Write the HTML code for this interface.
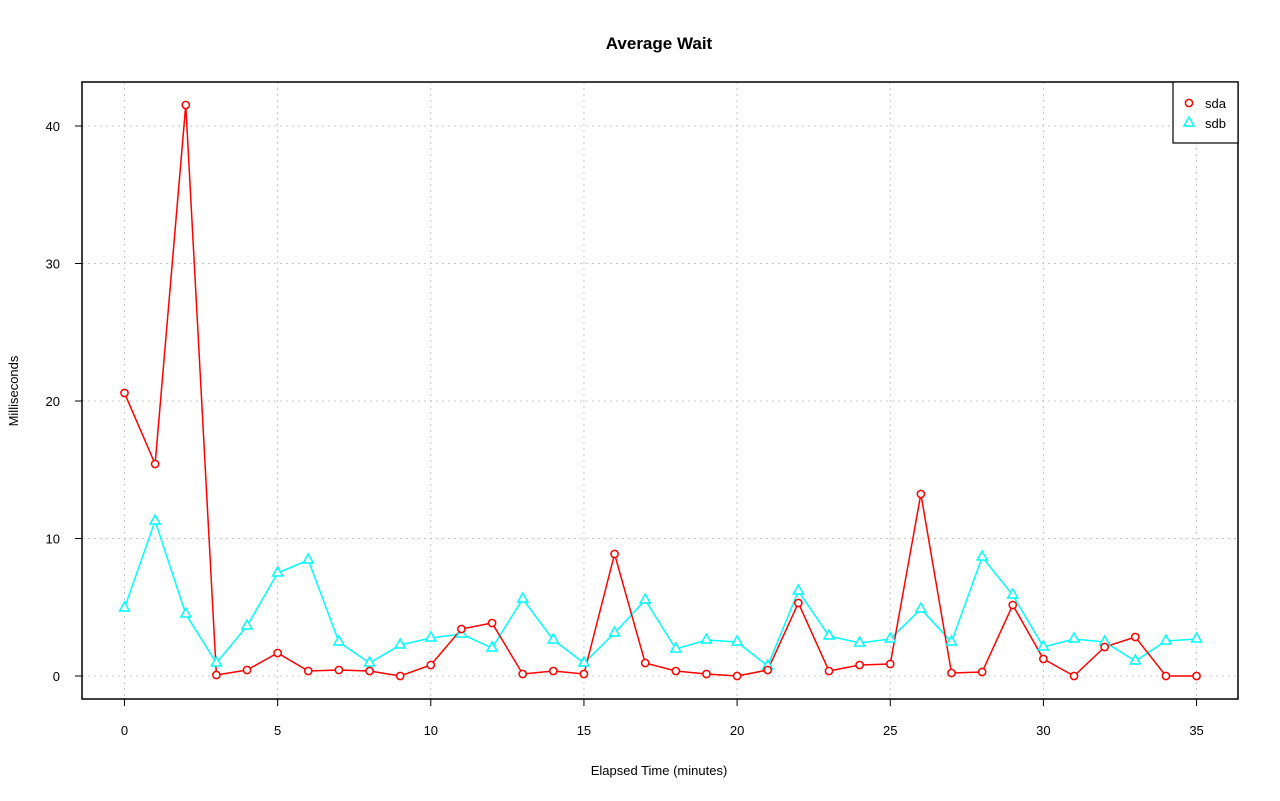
<!DOCTYPE html>
<html><head><meta charset="utf-8"><style>body{margin:0;background:#fff}svg{display:block}text{font-family:"Liberation Sans",sans-serif}</style></head><body>
<svg id="s" width="1280" height="801" xmlns="http://www.w3.org/2000/svg">
<rect width="1280" height="801" fill="#fff"/>
<text x="659" y="49" font-size="17" font-weight="bold" text-anchor="middle">Average Wait</text>
<g id="grid" stroke="#c8c8c8" stroke-dasharray="2,4" stroke-width="1"></g>
<rect x="82" y="82" width="1156" height="617" fill="none" stroke="#000" stroke-width="1.5"/>
<g id="ax" font-size="13" fill="#000"></g>
<text x="659" y="775" font-size="13" text-anchor="middle">Elapsed Time (minutes)</text>
<text transform="translate(18,391) rotate(-90)" font-size="13" text-anchor="middle">Milliseconds</text>
<g id="series"></g>
<rect x="1173" y="82" width="65" height="61" fill="#fff" stroke="#000" stroke-width="1.2"/>
<circle cx="1189" cy="103" r="3.6" fill="none" stroke="#f00" stroke-width="1.5"/>
<text x="1205" y="108" font-size="13">sda</text>
<polygon points="1189,117 1194,126 1184,126" fill="none" stroke="#0ff" stroke-width="1.5"/>
<text x="1205" y="128" font-size="13">sdb</text>
</svg>
<script>
const X=i=>124.5+i*30.63,Y=v=>676-v*13.75;
const a=[393,464,105,675,670,653,671,670,671,676,665,629,623,674,671,674,554,663,671,674,676,670,603,671,665,664,494,673,672,605,659,676,647,637,676,676];
const b=[608,521,614,663,626,573,560,642,663,645,638,634,648,599,640,663,633,600,649,640,642,666,591,636,643,639,609,642,557,595,647,639,642,661,641,639];
let g='',ax='';
for(let i=0;i<=35;i+=5){const x=X(i);g+=`<line x1="${x}" y1="82" x2="${x}" y2="699"/>`;ax+=`<line x1="${x}" y1="699" x2="${x}" y2="706" stroke="#000"/><text x="${x}" y="735" text-anchor="middle">${i}</text>`;}
for(let v=0;v<=40;v+=10){const y=Y(v);g+=`<line x1="82" y1="${y}" x2="1238" y2="${y}"/>`;ax+=`<line x1="75" y1="${y}" x2="82" y2="${y}" stroke="#000"/><text x="60" y="${y+5}" text-anchor="end">${v}</text>`;}
document.getElementById('grid').innerHTML=g;document.getElementById('ax').innerHTML=ax;
let s=`<polyline fill="none" stroke="#0ff" stroke-width="1.5" points="${b.map((y,i)=>X(i)+','+y).join(' ')}"/>`;
s+=`<polyline fill="none" stroke="#f00" stroke-width="1.5" points="${a.map((y,i)=>X(i)+','+y).join(' ')}"/>`;
b.forEach((y,i)=>{const x=X(i);s+=`<polygon points="${x},${y-6} ${x+5},${y+3} ${x-5},${y+3}" fill="#fff" stroke="#0ff" stroke-width="1.5"/>`});
a.forEach((y,i)=>{s+=`<circle cx="${X(i)}" cy="${y}" r="3.6" fill="#fff" stroke="#f00" stroke-width="1.5"/>`});
document.getElementById('series').innerHTML=s;
</script>
</body></html>
